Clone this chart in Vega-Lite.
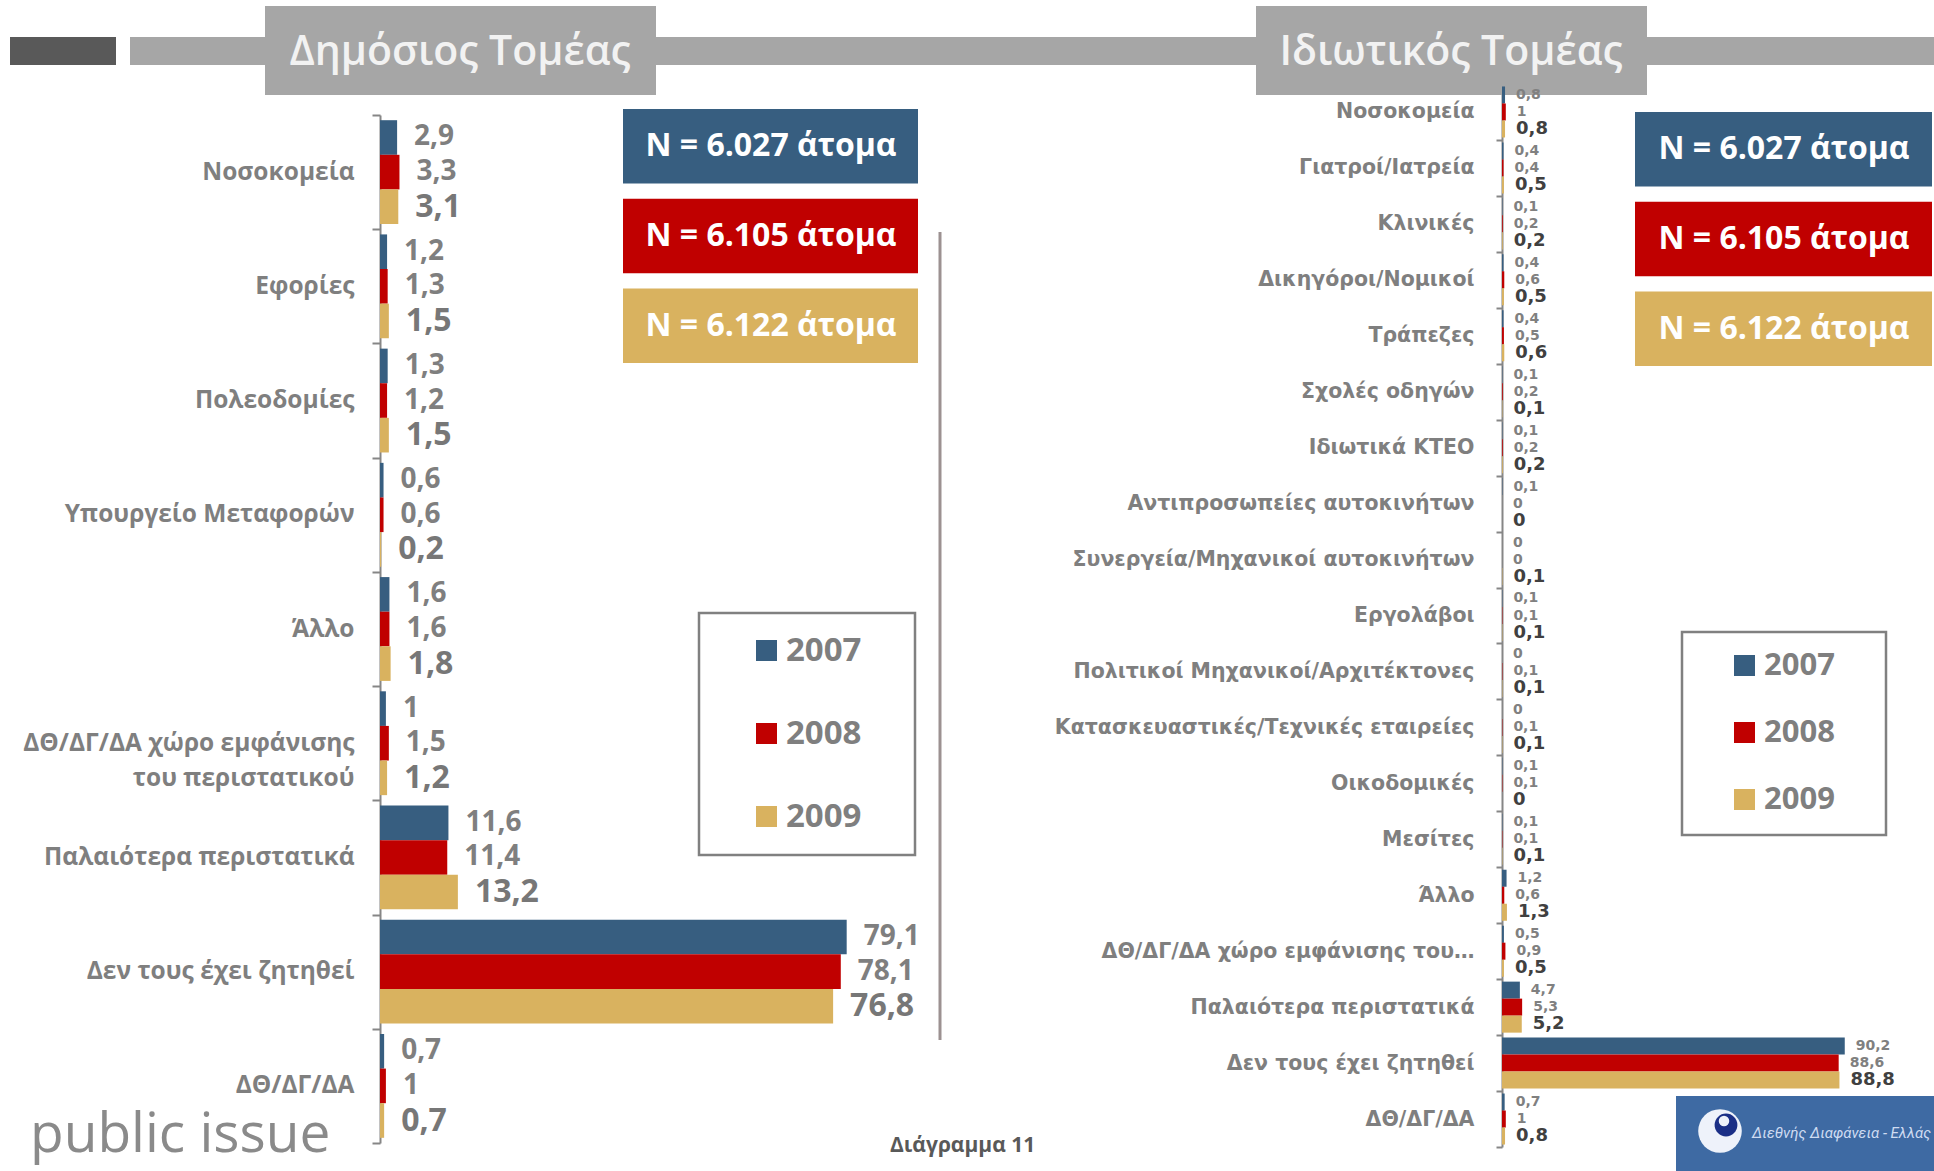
{
  "$schema": "https://vega.github.io/schema/vega-lite/v6.json",
  "width": 1934,
  "height": 1171,
  "autosize": {"type": "none"},
  "padding": 0,
  "background": "white",
  "config": {
    "view": {"stroke": null},
    "font": "Open Sans",
    "locale": {
      "number": {"decimal": ",", "thousands": ".", "grouping": [3], "currency": ["", " €"]}
    }
  },
  "datasets": {
    "public": [
      {"cat": "Νοσοκομεία", "year": "2007", "value": 2.9},
      {"cat": "Νοσοκομεία", "year": "2008", "value": 3.3},
      {"cat": "Νοσοκομεία", "year": "2009", "value": 3.1},
      {"cat": "Εφορίες", "year": "2007", "value": 1.2},
      {"cat": "Εφορίες", "year": "2008", "value": 1.3},
      {"cat": "Εφορίες", "year": "2009", "value": 1.5},
      {"cat": "Πολεοδομίες", "year": "2007", "value": 1.3},
      {"cat": "Πολεοδομίες", "year": "2008", "value": 1.2},
      {"cat": "Πολεοδομίες", "year": "2009", "value": 1.5},
      {"cat": "Υπουργείο Μεταφορών", "year": "2007", "value": 0.6},
      {"cat": "Υπουργείο Μεταφορών", "year": "2008", "value": 0.6},
      {"cat": "Υπουργείο Μεταφορών", "year": "2009", "value": 0.2},
      {"cat": "Άλλο", "year": "2007", "value": 1.6},
      {"cat": "Άλλο", "year": "2008", "value": 1.6},
      {"cat": "Άλλο", "year": "2009", "value": 1.8},
      {"cat": "ΔΘ/ΔΓ/ΔΑ χώρο εμφάνισης του περιστατικού", "year": "2007", "value": 1},
      {"cat": "ΔΘ/ΔΓ/ΔΑ χώρο εμφάνισης του περιστατικού", "year": "2008", "value": 1.5},
      {"cat": "ΔΘ/ΔΓ/ΔΑ χώρο εμφάνισης του περιστατικού", "year": "2009", "value": 1.2},
      {"cat": "Παλαιότερα περιστατικά", "year": "2007", "value": 11.6},
      {"cat": "Παλαιότερα περιστατικά", "year": "2008", "value": 11.4},
      {"cat": "Παλαιότερα περιστατικά", "year": "2009", "value": 13.2},
      {"cat": "Δεν τους έχει ζητηθεί", "year": "2007", "value": 79.1},
      {"cat": "Δεν τους έχει ζητηθεί", "year": "2008", "value": 78.1},
      {"cat": "Δεν τους έχει ζητηθεί", "year": "2009", "value": 76.8},
      {"cat": "ΔΘ/ΔΓ/ΔΑ", "year": "2007", "value": 0.7},
      {"cat": "ΔΘ/ΔΓ/ΔΑ", "year": "2008", "value": 1},
      {"cat": "ΔΘ/ΔΓ/ΔΑ", "year": "2009", "value": 0.7}
    ],
    "private": [
      {"cat": "Νοσοκομεία", "year": "2007", "value": 0.8},
      {"cat": "Νοσοκομεία", "year": "2008", "value": 1},
      {"cat": "Νοσοκομεία", "year": "2009", "value": 0.8},
      {"cat": "Γιατροί/Ιατρεία", "year": "2007", "value": 0.4},
      {"cat": "Γιατροί/Ιατρεία", "year": "2008", "value": 0.4},
      {"cat": "Γιατροί/Ιατρεία", "year": "2009", "value": 0.5},
      {"cat": "Κλινικές", "year": "2007", "value": 0.1},
      {"cat": "Κλινικές", "year": "2008", "value": 0.2},
      {"cat": "Κλινικές", "year": "2009", "value": 0.2},
      {"cat": "Δικηγόροι/Νομικοί", "year": "2007", "value": 0.4},
      {"cat": "Δικηγόροι/Νομικοί", "year": "2008", "value": 0.6},
      {"cat": "Δικηγόροι/Νομικοί", "year": "2009", "value": 0.5},
      {"cat": "Τράπεζες", "year": "2007", "value": 0.4},
      {"cat": "Τράπεζες", "year": "2008", "value": 0.5},
      {"cat": "Τράπεζες", "year": "2009", "value": 0.6},
      {"cat": "Σχολές οδηγών", "year": "2007", "value": 0.1},
      {"cat": "Σχολές οδηγών", "year": "2008", "value": 0.2},
      {"cat": "Σχολές οδηγών", "year": "2009", "value": 0.1},
      {"cat": "Ιδιωτικά ΚΤΕΟ", "year": "2007", "value": 0.1},
      {"cat": "Ιδιωτικά ΚΤΕΟ", "year": "2008", "value": 0.2},
      {"cat": "Ιδιωτικά ΚΤΕΟ", "year": "2009", "value": 0.2},
      {"cat": "Αντιπροσωπείες αυτοκινήτων", "year": "2007", "value": 0.1},
      {"cat": "Αντιπροσωπείες αυτοκινήτων", "year": "2008", "value": 0},
      {"cat": "Αντιπροσωπείες αυτοκινήτων", "year": "2009", "value": 0},
      {"cat": "Συνεργεία/Μηχανικοί αυτοκινήτων", "year": "2007", "value": 0},
      {"cat": "Συνεργεία/Μηχανικοί αυτοκινήτων", "year": "2008", "value": 0},
      {"cat": "Συνεργεία/Μηχανικοί αυτοκινήτων", "year": "2009", "value": 0.1},
      {"cat": "Εργολάβοι", "year": "2007", "value": 0.1},
      {"cat": "Εργολάβοι", "year": "2008", "value": 0.1},
      {"cat": "Εργολάβοι", "year": "2009", "value": 0.1},
      {"cat": "Πολιτικοί Μηχανικοί/Αρχιτέκτονες", "year": "2007", "value": 0},
      {"cat": "Πολιτικοί Μηχανικοί/Αρχιτέκτονες", "year": "2008", "value": 0.1},
      {"cat": "Πολιτικοί Μηχανικοί/Αρχιτέκτονες", "year": "2009", "value": 0.1},
      {"cat": "Κατασκευαστικές/Τεχνικές εταιρείες", "year": "2007", "value": 0},
      {"cat": "Κατασκευαστικές/Τεχνικές εταιρείες", "year": "2008", "value": 0.1},
      {"cat": "Κατασκευαστικές/Τεχνικές εταιρείες", "year": "2009", "value": 0.1},
      {"cat": "Οικοδομικές", "year": "2007", "value": 0.1},
      {"cat": "Οικοδομικές", "year": "2008", "value": 0.1},
      {"cat": "Οικοδομικές", "year": "2009", "value": 0},
      {"cat": "Μεσίτες", "year": "2007", "value": 0.1},
      {"cat": "Μεσίτες", "year": "2008", "value": 0.1},
      {"cat": "Μεσίτες", "year": "2009", "value": 0.1},
      {"cat": "Άλλο", "year": "2007", "value": 1.2},
      {"cat": "Άλλο", "year": "2008", "value": 0.6},
      {"cat": "Άλλο", "year": "2009", "value": 1.3},
      {"cat": "ΔΘ/ΔΓ/ΔΑ χώρο εμφάνισης του περιστατικού", "year": "2007", "value": 0.5},
      {"cat": "ΔΘ/ΔΓ/ΔΑ χώρο εμφάνισης του περιστατικού", "year": "2008", "value": 0.9},
      {"cat": "ΔΘ/ΔΓ/ΔΑ χώρο εμφάνισης του περιστατικού", "year": "2009", "value": 0.5},
      {"cat": "Παλαιότερα περιστατικά", "year": "2007", "value": 4.7},
      {"cat": "Παλαιότερα περιστατικά", "year": "2008", "value": 5.3},
      {"cat": "Παλαιότερα περιστατικά", "year": "2009", "value": 5.2},
      {"cat": "Δεν τους έχει ζητηθεί", "year": "2007", "value": 90.2},
      {"cat": "Δεν τους έχει ζητηθεί", "year": "2008", "value": 88.6},
      {"cat": "Δεν τους έχει ζητηθεί", "year": "2009", "value": 88.8},
      {"cat": "ΔΘ/ΔΓ/ΔΑ", "year": "2007", "value": 0.7},
      {"cat": "ΔΘ/ΔΓ/ΔΑ", "year": "2008", "value": 1},
      {"cat": "ΔΘ/ΔΓ/ΔΑ", "year": "2009", "value": 0.8}
    ],
    "nbox": [
      {"year": "2007", "label": "N = 6.027 άτομα"},
      {"year": "2008", "label": "N = 6.105 άτομα"},
      {"year": "2009", "label": "N = 6.122 άτομα"}
    ],
    "one": [{}]
  },
  "layer": [
    {"data": {"name": "one"}, "mark": {"type": "rect", "color": "#595959"},
     "encoding": {"x": {"value": 10}, "x2": {"value": 116}, "y": {"value": 37}, "y2": {"value": 65}}},
    {"data": {"name": "one"}, "mark": {"type": "rect", "color": "#a6a6a6"},
     "encoding": {"x": {"value": 130}, "x2": {"value": 1934}, "y": {"value": 37}, "y2": {"value": 65}}},
    {"data": {"name": "one"}, "mark": {"type": "rect", "color": "#a6a6a6"},
     "encoding": {"x": {"value": 265}, "x2": {"value": 656}, "y": {"value": 6}, "y2": {"value": 95}}},
    {"data": {"name": "one"}, "mark": {"type": "rect", "color": "#a6a6a6"},
     "encoding": {"x": {"value": 1256}, "x2": {"value": 1647}, "y": {"value": 6}, "y2": {"value": 95}}},
    {"data": {"name": "one"}, "mark": {"type": "text", "text": "Δημόσιος Τομέας", "font": "Open Sans", "fontSize": 41, "fontWeight": 600, "fill": "#f2f2f2", "align": "center", "baseline": "alphabetic"},
     "encoding": {"x": {"value": 460}, "y": {"value": 65}}},
    {"data": {"name": "one"}, "mark": {"type": "text", "text": "Ιδιωτικός Τομέας", "font": "Open Sans", "fontSize": 41, "fontWeight": 600, "fill": "#f2f2f2", "align": "center", "baseline": "alphabetic"},
     "encoding": {"x": {"value": 1451}, "y": {"value": 65}}},
    {"data": {"name": "one"}, "mark": {"type": "rect", "fill": "white", "stroke": "#808080", "strokeWidth": 2.5},
     "encoding": {"x": {"value": 699}, "x2": {"value": 915}, "y": {"value": 613}, "y2": {"value": 855}}},
    {"data": {"name": "one"}, "mark": {"type": "rect", "fill": "white", "stroke": "#808080", "strokeWidth": 2.5},
     "encoding": {"x": {"value": 1682}, "x2": {"value": 1886}, "y": {"value": 632}, "y2": {"value": 835}}},
    {"data": {"name": "one"}, "mark": {"type": "rule", "color": "#9c9191", "strokeWidth": 3},
     "encoding": {"x": {"value": 940}, "y": {"value": 232}, "y2": {"value": 1040}}},
    {"data": {"name": "one"}, "mark": {"type": "text", "text": "public issue", "font": "Open Sans", "fontSize": 55, "fontWeight": 400, "fill": "#8a8a8a", "align": "left", "baseline": "alphabetic"},
     "encoding": {"x": {"value": 30}, "y": {"value": 1152}}},
    {"data": {"name": "one"}, "mark": {"type": "text", "text": "Διάγραμμα 11", "font": "Open Sans", "fontSize": 21, "fontWeight": "bold", "fill": "#595959", "align": "left", "baseline": "middle"},
     "encoding": {"x": {"value": 890}, "y": {"value": 1146}}},
    {"data": {"name": "one"}, "mark": {"type": "rect", "color": "#3e6aa3"},
     "encoding": {"x": {"value": 1676}, "x2": {"value": 1934}, "y": {"value": 1096}, "y2": {"value": 1171}}},
    {"data": {"name": "one"}, "mark": {"type": "point", "shape": "circle", "filled": true, "color": "#eef2fa", "opacity": 1, "size": 1900},
     "encoding": {"x": {"value": 1720}, "y": {"value": 1131}}},
    {"data": {"name": "one"}, "mark": {"type": "point", "shape": "circle", "filled": true, "color": "#1b2f86", "opacity": 1, "size": 520},
     "encoding": {"x": {"value": 1726}, "y": {"value": 1125}}},
    {"data": {"name": "one"}, "mark": {"type": "point", "shape": "circle", "filled": true, "color": "#eef2fa", "opacity": 1, "size": 110},
     "encoding": {"x": {"value": 1724}, "y": {"value": 1121}}},
    {"data": {"name": "one"}, "mark": {"type": "text", "text": "Διεθνής Διαφάνεια - Ελλάς", "font": "Roboto", "fontSize": 15, "fontStyle": "italic", "fill": "#cfdcf2", "align": "left", "baseline": "middle"},
     "encoding": {"x": {"value": 1752}, "y": {"value": 1133}}},
    {
      "data": {"name": "nbox"},
      "encoding": {"y": {"field": "year", "type": "nominal", "axis": null, "scale": {"domain": ["2007", "2008", "2009"], "range": [109, 363], "paddingInner": 0.17, "paddingOuter": 0}}},
      "layer": [
        {"mark": {"type": "rect"},
         "encoding": {"x": {"value": 623}, "x2": {"value": 918},
           "color": {"field": "year", "type": "nominal", "legend": null, "scale": {"domain": ["2007", "2008", "2009"], "range": ["#375e80", "#c00000", "#d9b25f"]}}}},
        {"mark": {"type": "text", "font": "Open Sans", "fontSize": 32, "fontWeight": "bold", "fill": "white", "align": "center", "baseline": "middle"},
         "encoding": {"x": {"value": 771}, "text": {"field": "label"}}}
      ]
    },
    {
      "data": {"name": "nbox"},
      "encoding": {"y": {"field": "year", "type": "nominal", "axis": null, "scale": {"domain": ["2007", "2008", "2009"], "range": [112, 366], "paddingInner": 0.17, "paddingOuter": 0}}},
      "layer": [
        {"mark": {"type": "rect"},
         "encoding": {"x": {"value": 1635}, "x2": {"value": 1932},
           "color": {"field": "year", "type": "nominal", "legend": null, "scale": {"domain": ["2007", "2008", "2009"], "range": ["#375e80", "#c00000", "#d9b25f"]}}}},
        {"mark": {"type": "text", "font": "Open Sans", "fontSize": 32, "fontWeight": "bold", "fill": "white", "align": "center", "baseline": "middle"},
         "encoding": {"x": {"value": 1784}, "text": {"field": "label"}}}
      ]
    },
    {
      "data": {"name": "public"},
      "encoding": {
        "y": {"field": "cat", "type": "nominal", "title": null,
          "scale": {"domain": ["Νοσοκομεία", "Εφορίες", "Πολεοδομίες", "Υπουργείο Μεταφορών", "Άλλο", "ΔΘ/ΔΓ/ΔΑ χώρο εμφάνισης του περιστατικού", "Παλαιότερα περιστατικά", "Δεν τους έχει ζητηθεί", "ΔΘ/ΔΓ/ΔΑ"], "range": [115, 1143], "paddingInner": 0, "paddingOuter": 0},
          "axis": {"orient": "left", "offset": -380, "labelFont": "Open Sans", "labelFontSize": 24.5, "labelFontWeight": "bold", "labelColor": "#7f7f7f", "labelPadding": 18, "labelLimit": 500, "labelLineHeight": 35,
            "labelExpr": "datum.label == 'ΔΘ/ΔΓ/ΔΑ χώρο εμφάνισης του περιστατικού' ? ['ΔΘ/ΔΓ/ΔΑ χώρο εμφάνισης', 'του περιστατικού\u00a0\u00a0\u00a0\u00a0\u00a0\u00a0\u00a0\u00a0\u00a0\u00a0'] : datum.label",
            "tickBand": "extent", "tickSize": 8, "tickColor": "#868686", "tickWidth": 2, "domainColor": "#868686", "domainWidth": 2, "grid": false}},
        "yOffset": {"field": "year", "type": "nominal", "scale": {"domain": ["2007", "2008", "2009"], "paddingInner": 0, "paddingOuter": 0.15}},
        "x": {"field": "value", "type": "quantitative", "axis": null, "scale": {"domain": [0, 95], "range": [380, 940.5], "nice": false, "zero": true}}
      },
      "layer": [
        {"mark": {"type": "bar"},
         "encoding": {"color": {"field": "year", "type": "nominal", "scale": {"domain": ["2007", "2008", "2009"], "range": ["#375e80", "#c00000", "#d9b25f"]},
           "legend": {"orient": "none", "legendX": 750, "legendY": 634, "title": null, "padding": 0, "symbolType": "square", "symbolSize": 441, "symbolStrokeWidth": 0, "symbolOpacity": 1, "labelFont": "Open Sans", "labelFontSize": 33, "labelFontWeight": "bold", "labelColor": "#7f7f7f", "rowPadding": 49, "labelOffset": 3}}}},
        {"mark": {"type": "text", "font": "Open Sans", "fontWeight": "bold", "align": "left", "baseline": "middle", "dx": 17},
         "encoding": {"text": {"field": "value", "type": "quantitative", "format": ".1~f"},
           "color": {"condition": {"test": "datum.year == '2009'", "value": "#777777"}, "value": "#7f7f7f"},
           "size": {"condition": {"test": "datum.year == '2009'", "value": 32}, "value": 28}}}
      ]
    },
    {
      "data": {"name": "private"},
      "encoding": {
        "y": {"field": "cat", "type": "nominal", "title": null,
          "scale": {"domain": ["Νοσοκομεία", "Γιατροί/Ιατρεία", "Κλινικές", "Δικηγόροι/Νομικοί", "Τράπεζες", "Σχολές οδηγών", "Ιδιωτικά ΚΤΕΟ", "Αντιπροσωπείες αυτοκινήτων", "Συνεργεία/Μηχανικοί αυτοκινήτων", "Εργολάβοι", "Πολιτικοί Μηχανικοί/Αρχιτέκτονες", "Κατασκευαστικές/Τεχνικές εταιρείες", "Οικοδομικές", "Μεσίτες", "Άλλο", "ΔΘ/ΔΓ/ΔΑ χώρο εμφάνισης του περιστατικού", "Παλαιότερα περιστατικά", "Δεν τους έχει ζητηθεί", "ΔΘ/ΔΓ/ΔΑ"], "range": [84, 1147], "paddingInner": 0, "paddingOuter": 0},
          "axis": {"orient": "left", "offset": -1502, "labelFont": "DejaVu Sans", "labelFontSize": 20.5, "labelFontWeight": "bold", "labelColor": "#7f7f7f", "labelPadding": 22, "labelLimit": 600,
            "labelExpr": "datum.label == 'ΔΘ/ΔΓ/ΔΑ χώρο εμφάνισης του περιστατικού' ? 'ΔΘ/ΔΓ/ΔΑ χώρο εμφάνισης του…' : datum.label",
            "tickBand": "extent", "tickSize": 6, "tickColor": "#868686", "tickWidth": 2, "domainColor": "#868686", "domainWidth": 2, "grid": false}},
        "yOffset": {"field": "year", "type": "nominal", "scale": {"domain": ["2007", "2008", "2009"], "paddingInner": 0, "paddingOuter": 0.145}},
        "x": {"field": "value", "type": "quantitative", "axis": null, "scale": {"domain": [0, 113], "range": [1502, 1931.4], "nice": false, "zero": true}}
      },
      "layer": [
        {"mark": {"type": "bar"},
         "encoding": {"color": {"field": "year", "type": "nominal", "scale": {"domain": ["2007", "2008", "2009"], "range": ["#375e80", "#c00000", "#d9b25f"]},
           "legend": {"orient": "none", "legendX": 1729, "legendY": 650, "title": null, "padding": 0, "symbolType": "square", "symbolSize": 441, "symbolStrokeWidth": 0, "symbolOpacity": 1, "labelFont": "Open Sans", "labelFontSize": 31, "labelFontWeight": "bold", "labelColor": "#7f7f7f", "rowPadding": 35, "labelOffset": 4}}}},
        {"mark": {"type": "text", "font": "DejaVu Sans", "fontWeight": "bold", "align": "left", "baseline": "middle", "dx": 11},
         "encoding": {"text": {"field": "value", "type": "quantitative", "format": ".1~f"},
           "color": {"condition": {"test": "datum.year == '2009'", "value": "#404040"}, "value": "#808080"},
           "size": {"condition": {"test": "datum.year == '2009'", "value": 18}, "value": 14}}}
      ]
    }
  ],
  "resolve": {
    "scale": {"x": "independent", "y": "independent", "yOffset": "independent", "color": "independent"},
    "axis": {"x": "independent", "y": "independent"},
    "legend": {"color": "independent"}
  }
}
